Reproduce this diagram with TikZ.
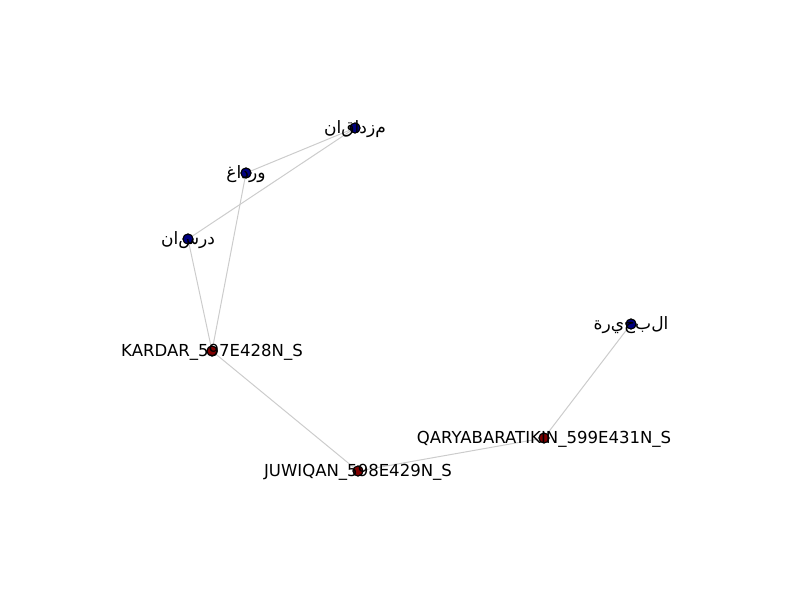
\documentclass[tikz,border=0pt]{standalone}
\usepackage{fontspec}
\setmainfont{DejaVu Sans}
\newcommand{\iso}[1]{\mbox{#1}}
\definecolor{lowc}{HTML}{00007F}
\definecolor{highc}{HTML}{7F0000}
\definecolor{edgec}{HTML}{CCCCCC}
\tikzset{
  dotnode/.style={circle,draw=black,line width=0.75pt,minimum size=7.5pt,inner sep=0pt},
  lownode/.style={dotnode,fill=lowc},
  highnode/.style={dotnode,fill=highc},
  edgeline/.style={draw=edgec,line width=0.75pt},
  lbl/.style={font=\fontsize{12.4pt}{14pt}\selectfont,text=black,inner sep=0pt,anchor=center,yshift=-1pt},
  arlbl/.style={lbl,font=\fontsize{12.8pt}{14pt}\selectfont}
}
\begin{document}
\begin{tikzpicture}[x=0.75pt,y=-0.75pt]
\useasboundingbox (0,0) rectangle (800,600);
% node positions
\coordinate (pm) at (355,128);
\coordinate (pw) at (246,173);
\coordinate (pd) at (188,239);
\coordinate (pk) at (212,351);
\coordinate (pj) at (358,471);
\coordinate (pq) at (544,438);
\coordinate (pb) at (631,324);
% nodes (for edge anchors)
\node[lownode] (m) at (pm) {};
\node[lownode] (w) at (pw) {};
\node[lownode] (d) at (pd) {};
\node[highnode] (k) at (pk) {};
\node[highnode] (j) at (pj) {};
\node[highnode] (q) at (pq) {};
\node[lownode] (b) at (pb) {};
% edges
\draw[edgeline] (m) -- (w);
\draw[edgeline] (m) -- (d);
\draw[edgeline] (w) -- (k);
\draw[edgeline] (d) -- (k);
\draw[edgeline] (k) -- (j);
\draw[edgeline] (j) -- (q);
\draw[edgeline] (q) -- (b);
% nodes on top of edges
\node[lownode] (m2) at (pm) {};
\node[lownode] (w2) at (pw) {};
\node[lownode] (d2) at (pd) {};
\node[highnode] (k2) at (pk) {};
\node[highnode] (j2) at (pj) {};
\node[highnode] (q2) at (pq) {};
\node[lownode] (b2) at (pb) {};
% labels
\node[arlbl] (lm) at (pm) {\iso{ن}\iso{ا}\iso{ق}\iso{ا}\iso{د}\iso{ز}\iso{م}};
\node[arlbl] (lw) at (pw) {\iso{غ}\iso{ا}\iso{د}\iso{ر}\iso{و}};
\node[arlbl] (ld) at (pd) {\iso{ن}\iso{ا}\iso{س}\iso{ر}\iso{د}};
\node[lbl] (lk) at (pk) {KARDAR\_597E428N\_S};
\node[lbl] (lj) at (pj) {JUWIQAN\_598E429N\_S};
\node[lbl] (lq) at (pq) {QARYABARATIKIN\_599E431N\_S};
\node[arlbl] (lb) at (pb) {\iso{ة}\iso{ر}\iso{ي}\iso{ح}\iso{ب}\iso{ل}\iso{ا}};
\end{tikzpicture}
\end{document}
